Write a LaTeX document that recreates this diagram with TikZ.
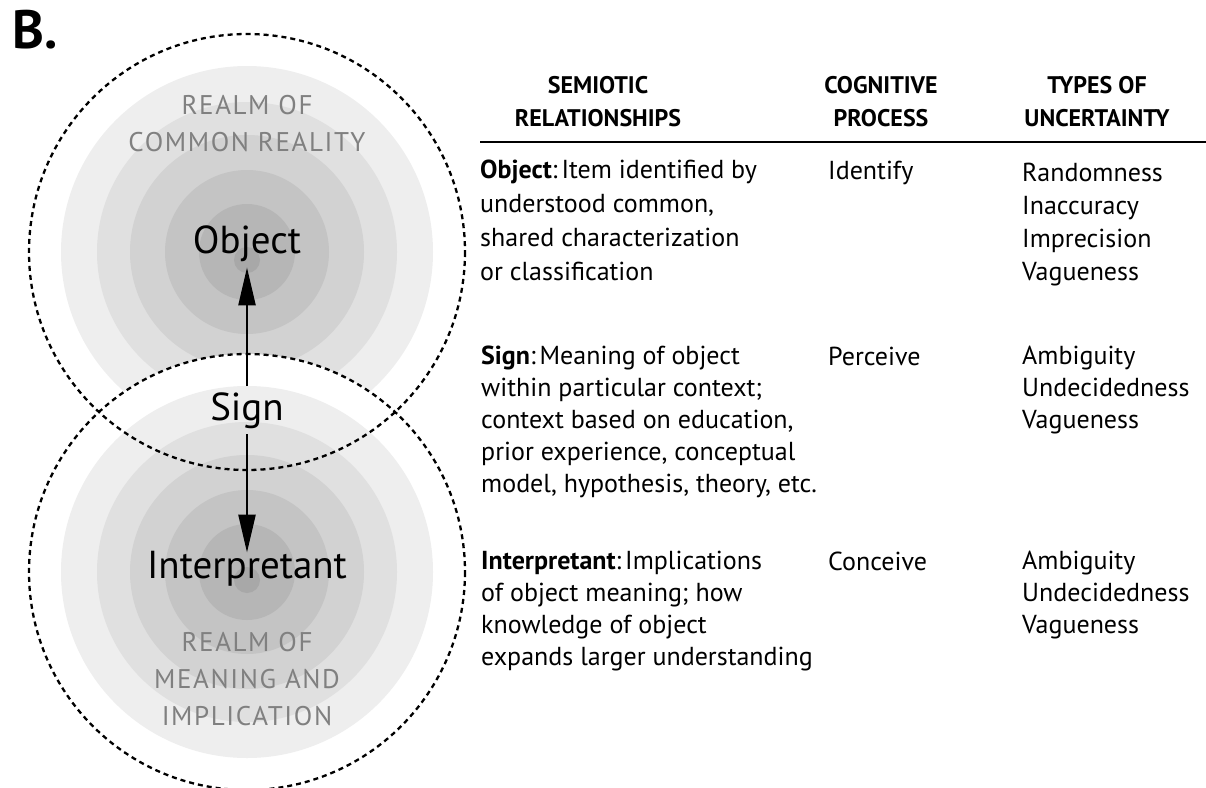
\documentclass[tikz,border=0pt]{standalone}
\usepackage{fontspec}
\setmainfont{PT Sans}
\newfontfamily\realmfont[LetterSpace=6]{PT Sans}
\usetikzlibrary{positioning}
\usetikzlibrary{arrows.meta}

\definecolor{ringa}{RGB}{238,238,238}
\definecolor{ringb}{RGB}{224,224,224}
\definecolor{ringc}{RGB}{210,210,210}
\definecolor{ringd}{RGB}{196,196,196}
\definecolor{ringe}{RGB}{182,182,182}
\definecolor{ringf}{RGB}{168,168,168}
\definecolor{realmgray}{RGB}{128,128,128}

\begin{document}
\begin{tikzpicture}[x=1pt,y=-1pt,
	realm/.style={text=realmgray,align=center,inner sep=0pt,font=\realmfont\fontsize{27}{37}\selectfont},
	term/.style={anchor=base,inner sep=6pt,font=\fontsize{39}{42}\selectfont},
	head/.style={align=center,anchor=base,inner sep=0pt,font=\bfseries\fontsize{24}{33.4}\selectfont},
	cell/.style={align=left,anchor=base west,inner sep=0pt,font=\fontsize{26}{31.8}\selectfont},
	dashring/.style={draw=black,line width=2.3pt,dash pattern=on 5pt off 4pt},
	link/.style={-{Triangle[length=38pt,width=17pt]},line width=2.5pt}]
	\useasboundingbox (0,0) rectangle (1206,787);
	% realm of common reality
	\foreach \r/\c in {186/ringa,150/ringb,117/ringc,82/ringd,48/ringe}
		\fill[\c] (247,252) circle (\r);
	\fill[ringf] (247,260) circle (13);
	% realm of meaning, laid over the upper one
	\fill[white] (247,572) circle (218);
	\foreach \r/\c in {186/ringa,150/ringb,117/ringc,82/ringd,48/ringe}
		\fill[\c] (247,572) circle (\r);
	\fill[ringf] (247,580) circle (13);
	\draw[dashring] (247,252) circle (218);
	\draw[dashring] (247,572) circle (218);

	\node[inner sep=0pt,anchor=base west,font=\bfseries\fontsize{54}{54}\selectfont] (panel) at (12,48) {B.};
	\node[realm] (realmtop) at (247,123.5) {REALM OF\\COMMON REALITY};
	\node[realm] (realmbot) at (247,679.5) {REALM OF\\MEANING AND\\IMPLICATION};

	\node[term] (obj) at (247,253) {Object};
	\node[term] (sign) at (247,420) {Sign};
	\node[term] (interp) at (247,578) {Interpretant};
	\draw[link] (sign) -- (obj);
	\draw[link,shorten >=-8pt] (sign) -- (interp);

	% table (multi-line cells sit on the baseline of their last line)
	\node[head] (semhead) at (598,126.7) {SEMIOTIC\\RELATIONSHIPS};
	\node[head] (coghead) at (881,126.7) {COGNITIVE\\PROCESS};
	\node[head] (unchead) at (1097,126.7) {TYPES OF\\UNCERTAINTY};
	\draw[line width=2pt] (480,142) -- (1206,142);

	\node[cell,font=\fontsize{26}{34}\selectfont] (objtext) at (480,280) {\textbf{Object}:\hspace{0.15em}Item identified by\\understood common,\\shared characterization\\or classification};
	\node[cell] (objproc) at (828,179) {Identify};
	\node[cell,font=\fontsize{26}{33}\selectfont] (objunc) at (1022,280) {Randomness\\Inaccuracy\\Imprecision\\Vagueness};

	\node[cell] (signtext) at (481,492) {\textbf{Sign}:\hspace{0.15em}Meaning of object\\within particular context;\\context based on education,\\prior experience, conceptual\\model, hypothesis, theory, etc.};
	\node[cell] (signproc) at (828,365) {Perceive};
	\node[cell] (signunc) at (1022,428.5) {Ambiguity\\Undecidedness\\Vagueness};

	\node[cell] (interptext) at (481,665) {\textbf{Interpretant}:\hspace{0.15em}Implications\\of object meaning; how\\knowledge of object\\expands larger understanding};
	\node[cell] (interpproc) at (828,570) {Conceive};
	\node[cell] (interpunc) at (1022,633.5) {Ambiguity\\Undecidedness\\Vagueness};
\end{tikzpicture}
\end{document}
